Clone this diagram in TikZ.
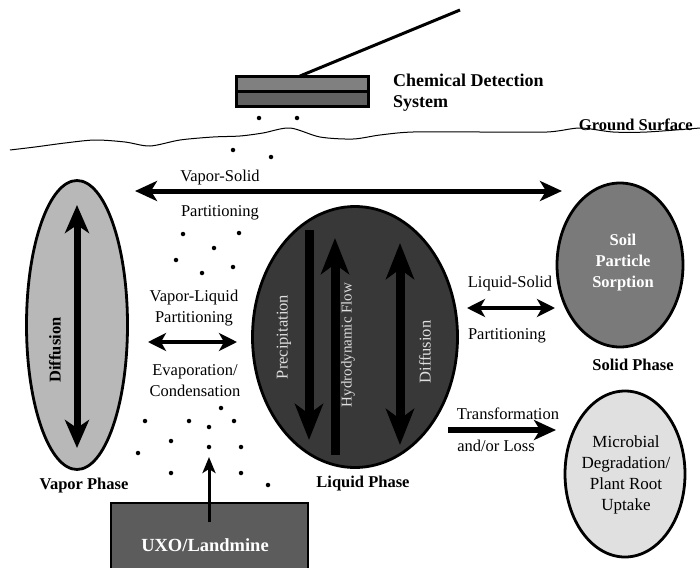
\documentclass[tikz,border=0pt]{standalone}
\usepackage{fontspec}
\setmainfont{Liberation Serif}
\usetikzlibrary{arrows.meta,shapes.geometric}
\definecolor{vaporfill}{gray}{0.72}
\definecolor{liquidfill}{gray}{0.22}
\definecolor{solidfill}{gray}{0.48}
\definecolor{microfill}{gray}{0.88}
\definecolor{uxofill}{gray}{0.36}
\definecolor{sensorA}{gray}{0.50}
\definecolor{sensorB}{gray}{0.38}
\begin{document}
\begin{tikzpicture}[x=1pt,y=-1pt,
  txt/.style={font=\fontsize{16.5}{21}\selectfont, inner sep=0pt, align=center},
  btxt/.style={font=\fontsize{16.5}{21}\selectfont\bfseries, inner sep=0pt, align=center},
  phase/.style={ellipse, draw=black, line width=2.8pt, inner sep=0pt},
  dot/.style={circle, fill=black, inner sep=0pt, minimum size=4.5pt},
  dblarrow/.style={line width=5pt, {Stealth[length=22pt,width=20pt,inset=6pt]}-{Stealth[length=22pt,width=20pt,inset=6pt]}},
  midarrow/.style={line width=4.5pt, {Stealth[length=18pt,width=18pt,inset=5pt]}-{Stealth[length=18pt,width=18pt,inset=5pt]}},
  liqarrow/.style={line width=9pt, -{Stealth[length=36pt,width=28pt,inset=10pt]}},
  liqdbl/.style={line width=9pt, {Stealth[length=36pt,width=28pt,inset=10pt]}-{Stealth[length=36pt,width=28pt,inset=10pt]}},
  vapdbl/.style={line width=7pt, {Stealth[length=28pt,width=24pt,inset=8pt]}-{Stealth[length=28pt,width=24pt,inset=8pt]}}
]
\useasboundingbox (0,0) rectangle (700,567);

% ground surface
\draw[line width=1pt] plot[smooth] coordinates {(10,150) (35,147) (65,143) (95,140) (125,142) (150,146) (180,140) (213,137) (240,136) (263,133) (290,128) (320,137) (353,139) (380,135) (413,132) (480,132) (547,132) (580,128) (613,132) (647,132) (700,128)};
\node[btxt, anchor=south east] (ground) at (693,131) {Ground Surface};

% chemical detection system
\coordinate (mast) at (460,10);
\node[draw=black, line width=1.5pt, fill=black, minimum width=133pt, minimum height=31pt, inner sep=0pt] (sensor) at (302.5,91.5) {};
\fill[sensorA] (238,78) rectangle (367,90);
\fill[sensorB] (238,93) rectangle (367,105);
\coordinate (sensortop) at (300,76);
\draw[line width=3pt] (sensortop) -- (mast);
\node[btxt, font=\fontsize{18}{21}\selectfont\bfseries, anchor=west, align=left] (cds) at (393,93) {Chemical Detection\\System};

% phases
\node[phase, fill=vaporfill, minimum width=101pt, minimum height=289pt] (vapor) at (77,325) {};
\node[phase, fill=liquidfill, minimum width=205pt, minimum height=261pt] (liquid) at (355,337) {};
\node[phase, fill=solidfill, minimum width=126pt, minimum height=164pt] (solid) at (620,265) {};
\node[phase, fill=microfill, minimum width=120pt, minimum height=166pt] (micro) at (625,474) {};

% uxo box
\node[draw=black, line width=2pt, fill=uxofill, minimum width=197pt, minimum height=80pt, inner sep=0pt, anchor=north west] (uxo) at (110,502) {};
\node[btxt, text=white, font=\fontsize{18.5}{21}\selectfont\bfseries] (uxolabel) at (205,545) {UXO/Landmine};

% vapor diffusion
\coordinate (vdT) at (77,205);
\coordinate (vdB) at (77,448);
\draw[vapdbl] (vdT) -- (vdB);
\node[btxt, rotate=90] (vdiff) at (55,350) {Diffusion};

% liquid arrows
\coordinate (prT) at (309,230);
\coordinate (prB) at (309,440);
\draw[liqarrow] (prT) -- (prB);
\coordinate (hyB) at (335,455);
\coordinate (hyT) at (335,238);
\draw[liqarrow] (hyB) -- (hyT);
\coordinate (ldT) at (400,243);
\coordinate (ldB) at (400,445);
\draw[liqdbl] (ldT) -- (ldB);
\node[txt, rotate=90, text=gray!25] (precip) at (284,337) {Precipitation};
\node[txt, rotate=90, text=gray!25, font=\fontsize{15}{18}\selectfont] (hydro) at (348,345) {Hydrodynamic Flow};
\node[txt, rotate=90, text=gray!25] (ldiff) at (425,352) {Diffusion};

% vapor-solid
\coordinate (vsL) at (135,191);
\coordinate (vsR) at (562,191);
\draw[dblarrow] (vsL) -- (vsR);
\node[txt] (vslab) at (220,178) {Vapor-Solid};
\node[txt] (vspart) at (220,213) {Partitioning};

% vapor-liquid
\coordinate (vlL) at (148,342);
\coordinate (vlR) at (237,342);
\draw[midarrow] (vlL) -- (vlR);
\node[txt] (vllab) at (194,308) {Vapor-Liquid\\Partitioning};
\node[txt] (evap) at (195,381) {Evaporation/\\Condensation};

% liquid-solid
\coordinate (lsL) at (467,308);
\coordinate (lsR) at (555,308);
\draw[midarrow] (lsL) -- (lsR);
\node[txt] (lslab) at (510,284) {Liquid-Solid};
\node[txt] (lspart) at (507,336) {Partitioning};

% transformation
\coordinate (trL) at (448,430);
\coordinate (trR) at (556,430);
\draw[line width=6pt, -{Stealth[length=22pt,width=20pt,inset=6pt]}] (trL) -- (trR);
\node[txt] (trlab) at (508,414) {Transformation};
\node[txt] (trloss) at (496,446) {and/or Loss};

% phase labels
\node[btxt] (vaporlab) at (84,486) {Vapor Phase};
\node[btxt] (liquidlab) at (363,484) {Liquid Phase};
\node[btxt] (solidlab) at (633,365) {Solid Phase};
\node[btxt, text=white] (soillab) at (623,263) {Soil\\Particle\\Sorption};
\node[txt, font=\fontsize{17}{21}\selectfont] (microlab) at (626,475) {Microbial\\Degradation/\\Plant Root\\Uptake};

% uxo upward arrow
\coordinate (upB) at (209,522);
\coordinate (upT) at (209,457);
\draw[line width=3pt, -{Stealth[length=16pt,width=13pt,inset=4pt]}] (upB) -- (upT);

% dots
\foreach \p [count=\i] in {(259,118),(297,118),(233,150),(271,157),
  (183,234),(239,233),(214,248),(176,260),(233,267),(202,273),
  (221,408),(145,421),(189,421),(234,421),(209,427),(171,441),(209,447),(241,447),
  (138,453),(171,473),(241,473),(268,485)}
  \node[dot] (d\i) at \p {};
\end{tikzpicture}
\end{document}
